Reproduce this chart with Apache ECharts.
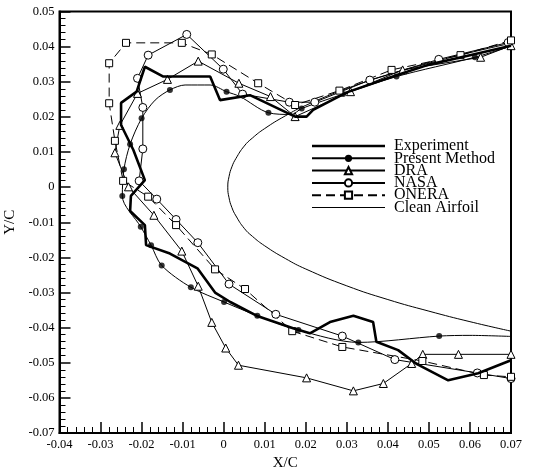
<!DOCTYPE html>
<html>
<head>
<meta charset="utf-8">
<script src="https://cdn.jsdelivr.net/npm/echarts@6/dist/echarts.min.js"></script>
<style>
  html, body { margin: 0; padding: 0; background: #fff; }
  #main { width: 534px; height: 471px; }
</style>
</head>
<body>
<div id="main"></div>
<script>
// ice shape data, X/C vs Y/C
var experiment = [
  [0.0700, 0.0403], [0.0600, 0.0376], [0.0500, 0.0349], [0.0421, 0.0319], [0.0300, 0.0270],
  [0.0218, 0.0220], [0.0202, 0.0201], [0.0174, 0.0201], [0.0064, 0.0262], [-0.0009, 0.0248],
  [-0.0033, 0.0315], [-0.0147, 0.0315], [-0.0192, 0.0343], [-0.0212, 0.0272], [-0.0250, 0.0240],
  [-0.0250, 0.0177], [-0.0220, 0.0106], [-0.0192, 0.0020], [-0.0226, -0.0025], [-0.0228, -0.0068],
  [-0.0192, -0.0108], [-0.0189, -0.0165], [-0.0131, -0.0189], [-0.0064, -0.0231], [-0.0021, -0.0300],
  [0.0016, -0.0327], [0.0080, -0.0366], [0.0169, -0.0402], [0.0210, -0.0416], [0.0259, -0.0384],
  [0.0316, -0.0366], [0.0364, -0.0384], [0.0372, -0.0440], [0.0425, -0.0464], [0.0471, -0.0504],
  [0.0547, -0.0550], [0.0620, -0.0530], [0.0700, -0.0493]
];

var presentCurve = [
  [0.0700, 0.0402], [0.0612, 0.0370], [0.0421, 0.0315], [0.0291, 0.0265], [0.0190, 0.0224],
  [0.0165, 0.0207], [0.0109, 0.0212], [0.0040, 0.0258], [0.0007, 0.0272], [-0.0033, 0.0291],
  [-0.0094, 0.0291], [-0.0131, 0.0277], [-0.0167, 0.0248], [-0.0200, 0.0196], [-0.0228, 0.0122],
  [-0.0243, 0.0051], [-0.0247, -0.0025], [-0.0202, -0.0113], [-0.0177, -0.0165], [-0.0151, -0.0223],
  [-0.0080, -0.0285], [0.0001, -0.0327], [0.0082, -0.0366], [0.0182, -0.0407], [0.0328, -0.0442],
  [0.0525, -0.0424], [0.0600, -0.0422], [0.0700, -0.0425]
];
var presentMarks = [
  [0.0612, 0.0370], [0.0421, 0.0315], [0.0291, 0.0265], [0.0190, 0.0224], [0.0109, 0.0212],
  [0.0007, 0.0272], [-0.0131, 0.0277], [-0.0200, 0.0196], [-0.0228, 0.0122], [-0.0243, 0.0051],
  [-0.0247, -0.0025], [-0.0202, -0.0113], [-0.0177, -0.0165], [-0.0151, -0.0223], [-0.0080, -0.0285],
  [0.0001, -0.0327], [0.0082, -0.0366], [0.0182, -0.0407], [0.0328, -0.0442], [0.0525, -0.0424]
];

var dra = [
  [0.0700, 0.0403], [0.0626, 0.0370], [0.0436, 0.0334], [0.0309, 0.0272], [0.0174, 0.0201],
  [0.0114, 0.0258], [0.0037, 0.0296], [-0.0062, 0.0359], [-0.0137, 0.0307], [-0.0210, 0.0267],
  [-0.0253, 0.0176], [-0.0265, 0.0098], [-0.0232, 0.0001], [-0.0170, -0.0080], [-0.0102, -0.0182],
  [-0.0062, -0.0282], [-0.0029, -0.0385], [0.0005, -0.0458], [0.0036, -0.0507], [0.0202, -0.0543],
  [0.0316, -0.0580], [0.0389, -0.0559], [0.0458, -0.0502], [0.0485, -0.0476], [0.0572, -0.0476],
  [0.0700, -0.0476]
];

var nasa = [
  [0.0693, 0.0412], [0.0524, 0.0364], [0.0356, 0.0305], [0.0222, 0.0242], [0.0160, 0.0242],
  [0.0046, 0.0265], [-0.0001, 0.0336], [-0.0090, 0.0435], [-0.0184, 0.0376], [-0.0210, 0.0310],
  [-0.0197, 0.0227], [-0.0197, 0.0109], [-0.0206, 0.0018], [-0.0163, -0.0034], [-0.0116, -0.0092],
  [-0.0063, -0.0158], [0.0013, -0.0276], [0.0127, -0.0362], [0.0289, -0.0424], [0.0417, -0.0491],
  [0.0618, -0.0529], [0.0700, -0.0545]
];

var onera = [
  [0.0700, 0.0418], [0.0577, 0.0376], [0.0409, 0.0334], [0.0282, 0.0275], [0.0174, 0.0234],
  [0.0084, 0.0296], [-0.0029, 0.0378], [-0.0102, 0.0411], [-0.0238, 0.0411], [-0.0279, 0.0353],
  [-0.0279, 0.0239], [-0.0265, 0.0132], [-0.0245, 0.0018], [-0.0184, -0.0027], [-0.0116, -0.0108],
  [-0.0021, -0.0234], [0.0052, -0.0290], [0.0167, -0.0410], [0.0289, -0.0455], [0.0484, -0.0495],
  [0.0634, -0.0535], [0.0700, -0.0540]
];

var cleanAirfoil = [
  [0.070, 0.0410], [0.060, 0.0383], [0.050, 0.0353], [0.040, 0.0320], [0.030, 0.0281],
  [0.020, 0.0233], [0.015, 0.0203], [0.010, 0.0167], [0.007, 0.0140], [0.005, 0.0117],
  [0.003, 0.0082], [0.002, 0.0058], [0.0013, 0.0030], [0.0010, 0.0000], [0.0013, -0.0030],
  [0.002, -0.0058], [0.003, -0.0082], [0.005, -0.0117], [0.007, -0.0140], [0.010, -0.0167],
  [0.015, -0.0203], [0.020, -0.0233], [0.030, -0.0281], [0.040, -0.0320], [0.050, -0.0353],
  [0.060, -0.0383], [0.070, -0.0410]
];

var font = 'Liberation Serif';

function tickFmt(v) {
  if (Math.abs(v) < 1e-9) return '0';
  return v.toFixed(2);
}

function axisCommon() {
  return {
    type: 'value',
    interval: 0.01,
    splitLine: { show: false },
    axisLine: { show: true, onZero: false, lineStyle: { color: '#000', width: 2 } },
    axisTick: { show: true, inside: true, length: 11, lineStyle: { color: '#000', width: 1.5 } },
    minorTick: { show: true, splitNumber: 5, length: 6, lineStyle: { color: '#000', width: 1 } },
    axisLabel: { color: '#000', fontFamily: font, fontSize: 12.5, margin: 5, formatter: tickFmt },
    nameTextStyle: { color: '#000', fontFamily: font, fontSize: 15 }
  };
}

var myChart = echarts.init(document.getElementById('main'), null, { renderer: 'canvas' });

var xAxis = axisCommon();
xAxis.min = -0.04;
xAxis.max = 0.07;
xAxis.name = 'X/C';
xAxis.nameLocation = 'middle';
xAxis.nameGap = 23;

var yAxis = axisCommon();
yAxis.min = -0.07;
yAxis.max = 0.05;
yAxis.name = 'Y/C';
yAxis.nameLocation = 'middle';
yAxis.nameGap = 39;

var option = {
  backgroundColor: '#fff',
  animation: false,
  grid: {
    left: 59.5, right: 23, top: 11.6, bottom: 38,
    containLabel: false,
    outerBoundsMode: 'none',
    show: true, borderColor: '#000', borderWidth: 2
  },
  xAxis: xAxis,
  yAxis: yAxis,
  legend: {
    orient: 'vertical',
    left: 306,
    top: 133,
    itemWidth: 73,
    itemHeight: 9,
    itemGap: -3.7,
    textStyle: { color: '#000', fontFamily: font, fontSize: 16, padding: [0, 0, 0, 4] },
    data: [
      { name: 'Experiment', icon: 'path://M0,0H73V2.6H0Z' },
      'Present Method', 'DRA', 'NASA', 'ONERA',
      { name: 'Clean Airfoil', icon: 'path://M0,0H73V1H0Z' }
    ]
  },
  series: [
    {
      name: 'Clean Airfoil', type: 'line', data: cleanAirfoil, smooth: true,
      symbol: 'none', color: '#000', lineStyle: { color: '#000', width: 1 }
    },
    {
      name: 'Present Method', type: 'line', data: presentCurve, smooth: 0.3,
      symbol: 'circle', showSymbol: false, color: '#000',
      lineStyle: { color: '#000', width: 1 }
    },
    {
      name: 'Present Method', type: 'scatter', data: presentMarks,
      symbol: 'circle', symbolSize: 6, itemStyle: { color: '#000' }
    },
    {
      name: 'DRA', type: 'line', data: dra,
      symbol: 'triangle', symbolSize: 8,
      itemStyle: { color: '#fff', borderColor: '#000', borderWidth: 1 },
      lineStyle: { color: '#000', width: 1 }
    },
    {
      name: 'NASA', type: 'line', data: nasa,
      symbol: 'circle', symbolSize: 8,
      itemStyle: { color: '#fff', borderColor: '#000', borderWidth: 1 },
      lineStyle: { color: '#000', width: 1 }
    },
    {
      name: 'ONERA', type: 'line', data: onera,
      symbol: 'rect', symbolSize: 7,
      itemStyle: { color: '#fff', borderColor: '#000', borderWidth: 1 },
      lineStyle: { color: '#000', width: 1, type: [9, 5] }
    },
    {
      name: 'Experiment', type: 'line', data: experiment,
      symbol: 'none', color: '#000', z: 5,
      lineStyle: { color: '#000', width: 2.6 }
    }
  ]
};

myChart.setOption(option);
window.addEventListener('resize', myChart.resize);
</script>
</body>
</html>
